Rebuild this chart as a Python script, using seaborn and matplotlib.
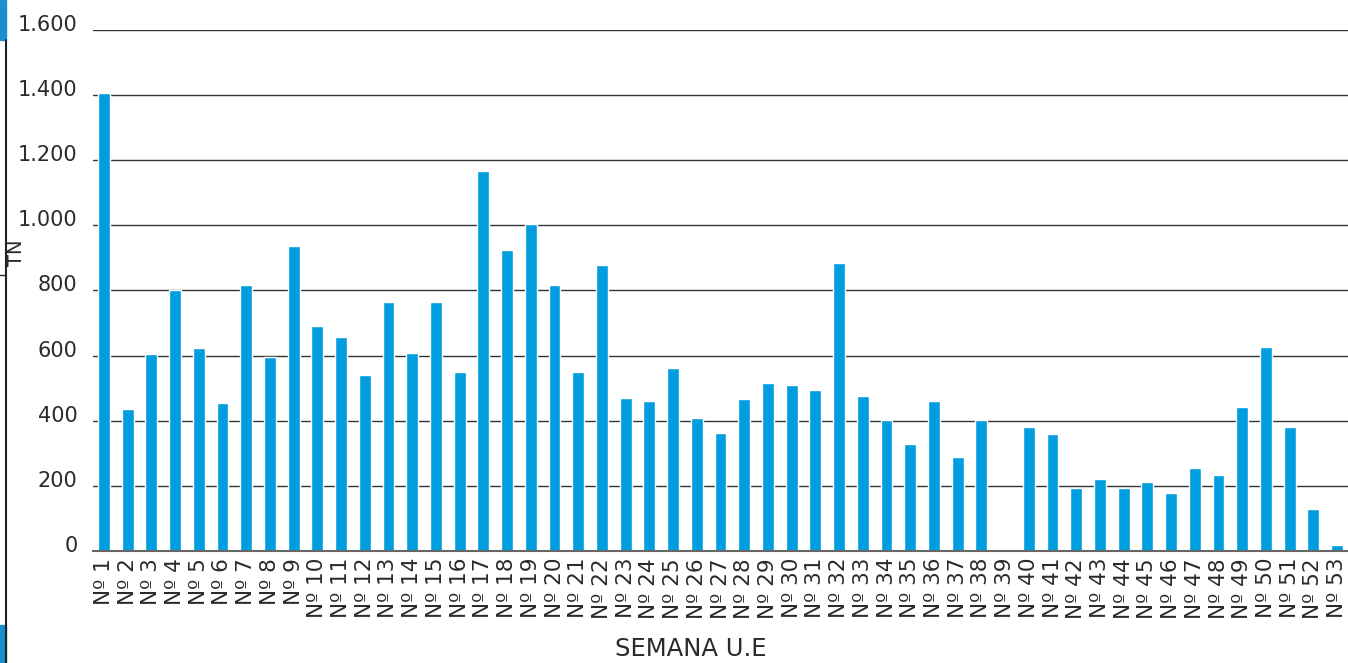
import numpy as np
import pandas as pd
import seaborn as sns
import matplotlib.pyplot as plt
import matplotlib.transforms as mtransforms
from matplotlib.patches import Rectangle
from matplotlib.lines import Line2D

weeks = [f"Nº {i}" for i in range(1, 54)]
tn = [1405, 436, 605, 801, 623, 454, 817, 596, 937, 691,
      657, 540, 765, 608, 765, 550, 1167, 924, 1004, 817,
      550, 878, 470, 461, 562, 408, 362, 467, 516, 510,
      494, 884, 476, 402, 329, 461, 289, 402, 0, 381,
      359, 193, 221, 193, 212, 178, 255, 233, 442, 626,
      381, 129, 18]
yticks = [0, 200, 400, 600, 800, 1000, 1200, 1400, 1600]
ytick_labels = ["0", "200", "400", "600", "800", "1.000", "1.200", "1.400", "1.600"]

BLUE = "#009DDF"
TXT = "#2a2a2a"

sns.set_style("white")
plt.rcParams["font.family"] = ["DejaVu Sans"]

df = pd.DataFrame({"semana": weeks, "tn": tn})

fig = plt.figure(figsize=(13.48, 6.63), dpi=100)
ax = fig.add_axes([0.069, 0.169, 0.931, 0.786])

sns.barplot(data=df, x="semana", y="tn", color=BLUE, width=0.5,
            saturation=1, ax=ax, zorder=3)

ax.set_ylim(0, 1600)
ax.set_xlim(-0.46, 52.46)
ax.set_yticks(yticks)
ax.set_yticklabels(ytick_labels)
ax.yaxis.grid(True, color="#333333", linewidth=1)
ax.set_axisbelow(True)
for s in ["top", "right", "left"]:
    ax.spines[s].set_visible(False)
ax.spines["bottom"].set_color("#666666")
ax.spines["bottom"].set_linewidth(1.5)
ax.spines["bottom"].set_zorder(4)

ax.tick_params(axis="y", length=0, pad=11, labelsize=15, labelcolor=TXT)
ax.tick_params(axis="x", length=0, pad=5, labelsize=15.5, labelcolor=TXT,
               labelrotation=90)
for lab in ax.get_yticklabels():
    lab.set_transform(lab.get_transform() +
                      mtransforms.ScaledTranslation(0, 7 / 100, fig.dpi_scale_trans))

ax.set_xlabel("SEMANA U.E", fontsize=17.5, color=TXT)
ax.xaxis.set_label_coords(0.476, -0.166)
ax.set_ylabel("TN", fontsize=14, color=TXT)
ax.yaxis.set_label_coords(-0.053, 0.572)

# page-edge decorations
fig.add_artist(Rectangle((0, 1 - 40 / 663), 6 / 1348, 40 / 663,
                         transform=fig.transFigure, color="#1a8fd0"))
fig.add_artist(Rectangle((0, 0), 6 / 1348, 38 / 663,
                         transform=fig.transFigure, color="#1a8fd0"))
fig.add_artist(Line2D([6 / 1348, 6 / 1348], [0, 1 - 40 / 663],
                      transform=fig.transFigure, color="#222222", linewidth=1.5))
fig.add_artist(Line2D([0, 6 / 1348], [1 - 275 / 663, 1 - 275 / 663],
                      transform=fig.transFigure, color="#222222", linewidth=1))

fig.savefig("out.png", dpi=100)
